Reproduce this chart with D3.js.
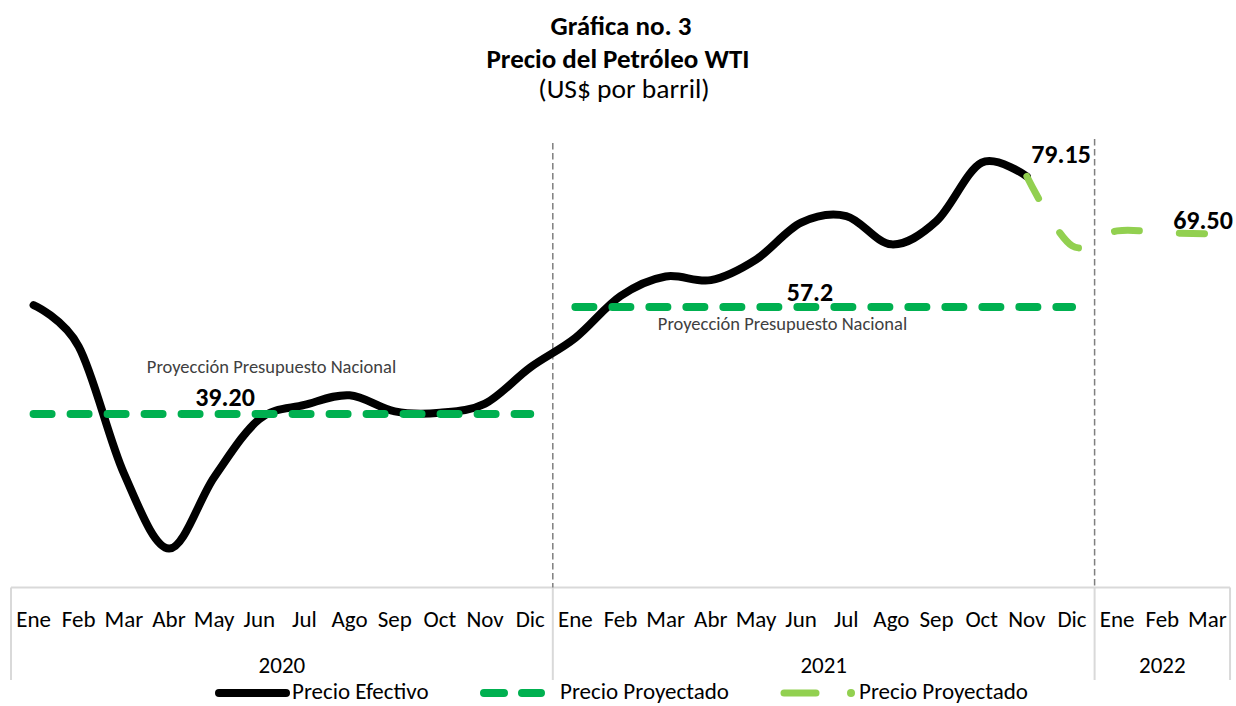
<!DOCTYPE html>
<html><head><meta charset="utf-8">
<script src="https://cdn.jsdelivr.net/npm/d3@7"></script>
<style>body{margin:0;background:#fff} svg{display:block}</style>
</head><body><svg id="c" width="1236" height="706"></svg>
<script>
// ---------- data ----------
const months = ["Ene","Feb","Mar","Abr","May","Jun","Jul","Ago","Sep","Oct","Nov","Dic"];
const years = ["2020","2021","2022"];
const monthsPerYear = [12, 12, 3];
// Precio efectivo, Ene 2020 .. Nov 2021
const precioEfectivo = [57.52, 50.54, 29.21, 16.55, 28.56, 38.31, 40.71, 42.34, 39.63, 39.40, 40.94, 47.02,
                        52.00, 59.04, 62.33, 61.72, 65.17, 71.38, 72.49, 67.73, 71.65, 81.48, 79.15];
// Precio proyectado (Nov 2021 .. Mar 2022)
const precioProyectado = [79.15, 67.5, 70.0, 69.7, 69.5];
const proyectadoStart = 22;
// Proyección Presupuesto Nacional
const presupuesto2020 = 39.20;
const presupuesto2021 = 57.2;
const yDomain = [10, 90];

// ---------- layout ----------
const FONT = "Carlito, Calibri, Lato, sans-serif";
const svg = d3.select("#c");
const cats = [];
years.forEach((yr, yi) => { for (let m = 0; m < monthsPerYear[yi]; m++) cats.push({m: months[m], yr, yi}); });
const x = d3.scaleBand().domain(d3.range(cats.length)).range([11, 11 + 27 * 45.15]).padding(0);
const cx = i => x(i) + x.bandwidth() / 2;
const y = d3.scaleLinear().domain(yDomain).range([587.5, 112]);
const axisTop = 587.5, axisBottom = 680;

// title
const title = svg.append("g").attr("font-family", FONT).attr("text-anchor", "middle").attr("fill", "#000");
title.append("text").attr("x", 621).attr("y", 35).attr("font-size", 27).attr("font-weight", "bold").text("Gráfica no. 3");
title.append("text").attr("x", 618).attr("y", 68).attr("font-size", 27).attr("font-weight", "bold").text("Precio del Petróleo WTI");
title.append("text").attr("x", 624).attr("y", 98).attr("font-size", 27.5).text("(US$ por barril)");

// axis box
const ax = svg.append("g");
const x0 = x.range()[0], x1 = x.range()[1];
ax.append("line").attr("x1", x0).attr("x2", x1).attr("y1", axisTop).attr("y2", axisTop).attr("stroke", "#d9d9d9").attr("stroke-width", 2);
let acc = 0;
const seps = [0];
monthsPerYear.forEach(n => { acc += n; seps.push(acc); });
seps.forEach(s => {
  const xx = s === cats.length ? x1 : x(s);
  ax.append("line").attr("x1", xx).attr("x2", xx).attr("y1", axisTop).attr("y2", axisBottom).attr("stroke", "#d9d9d9").attr("stroke-width", 2);
});
// dashed year separators inside plot
[12, 24].forEach((s, k) => {
  ax.append("line").attr("x1", x(s)).attr("x2", x(s)).attr("y1", k === 0 ? 143 : 139).attr("y2", axisTop)
    .attr("stroke", "#7f7f7f").attr("stroke-width", 1.5).attr("stroke-dasharray", "6.5,3.5");
});
// month labels
ax.selectAll("text.m").data(cats).join("text").attr("class", "m")
  .attr("x", (d, i) => cx(i)).attr("y", 627).attr("text-anchor", "middle")
  .attr("font-family", FONT).attr("font-size", 23).attr("fill", "#000").text(d => d.m);
// year labels
years.forEach((yr, yi) => {
  const a = x(seps[yi]), b = seps[yi + 1] === cats.length ? x1 : x(seps[yi + 1]);
  ax.append("text").attr("x", (a + b) / 2).attr("y", 673).attr("text-anchor", "middle")
    .attr("font-family", FONT).attr("font-size", 23).attr("fill", "#000").text(yr);
});

// lines
const curve = d3.curveCardinal.tension(0);
const line = d3.line().x(d => cx(d.i)).y(d => y(d.v)).curve(curve);
const straight = d3.line().x(d => cx(d.i)).y(d => y(d.v));

svg.append("path").datum(precioEfectivo.map((v, i) => ({i, v})))
  .attr("d", line).attr("fill", "none").attr("stroke", "#000").attr("stroke-width", 8)
  .attr("stroke-linecap", "round").attr("stroke-linejoin", "round");

const pres20 = d3.range(0, 12).map(i => ({i, v: presupuesto2020}));
const pres21 = d3.range(12, 24).map(i => ({i, v: presupuesto2021}));
[pres20, pres21].forEach(d => {
  svg.append("path").datum(d).attr("d", straight).attr("fill", "none").attr("stroke", "#00b050")
    .attr("stroke-width", 8).attr("stroke-linecap", "round").attr("stroke-dasharray", "18,19");
});

svg.append("path").datum(precioProyectado.map((v, k) => ({i: proyectadoStart + k, v})))
  .attr("d", line).attr("fill", "none").attr("stroke", "#92d050").attr("stroke-width", 7)
  .attr("stroke-linecap", "round").attr("stroke-dasharray", "25,40");

// value labels
const lab = svg.append("g").attr("font-family", FONT).attr("font-weight", "bold").attr("font-size", 26).attr("fill", "#000").attr("text-anchor", "middle");
lab.append("text").attr("x", 225).attr("y", y(presupuesto2020) - 8).text(presupuesto2020.toFixed(2));
lab.append("text").attr("x", 810).attr("y", y(presupuesto2021) - 6).text(String(presupuesto2021));
lab.append("text").attr("x", 1061).attr("y", y(precioEfectivo[precioEfectivo.length - 1]) - 13).text(precioEfectivo[precioEfectivo.length - 1].toFixed(2));
lab.append("text").attr("x", 1203).attr("y", y(precioProyectado[precioProyectado.length - 1]) - 5).text(precioProyectado[precioProyectado.length - 1].toFixed(2));

const note = svg.append("g").attr("font-family", FONT).attr("font-size", 18.5).attr("fill", "#404040").attr("text-anchor", "middle");
note.append("text").attr("x", 271.5).attr("y", 373).text("Proyección Presupuesto Nacional");
note.append("text").attr("x", 782.5).attr("y", 330).text("Proyección Presupuesto Nacional");

// legend
const lg = svg.append("g").attr("font-family", FONT).attr("font-size", 23).attr("fill", "#000");
const ly = 693;
lg.append("line").attr("x1", 219).attr("x2", 286).attr("y1", ly).attr("y2", ly).attr("stroke", "#000").attr("stroke-width", 8).attr("stroke-linecap", "round");
lg.append("text").attr("x", 292).attr("y", 699).text("Precio Efectivo");
lg.append("line").attr("x1", 484).attr("x2", 541).attr("y1", ly).attr("y2", ly).attr("stroke", "#00b050").attr("stroke-width", 8).attr("stroke-linecap", "round").attr("stroke-dasharray", "20,18");
lg.append("text").attr("x", 560).attr("y", 699).text("Precio Proyectado");
lg.append("line").attr("x1", 784).attr("x2", 816).attr("y1", ly).attr("y2", ly).attr("stroke", "#92d050").attr("stroke-width", 7).attr("stroke-linecap", "round");
lg.append("circle").attr("cx", 851).attr("cy", ly).attr("r", 4).attr("fill", "#92d050");
lg.append("text").attr("x", 859).attr("y", 699).text("Precio Proyectado");
</script></body></html>
